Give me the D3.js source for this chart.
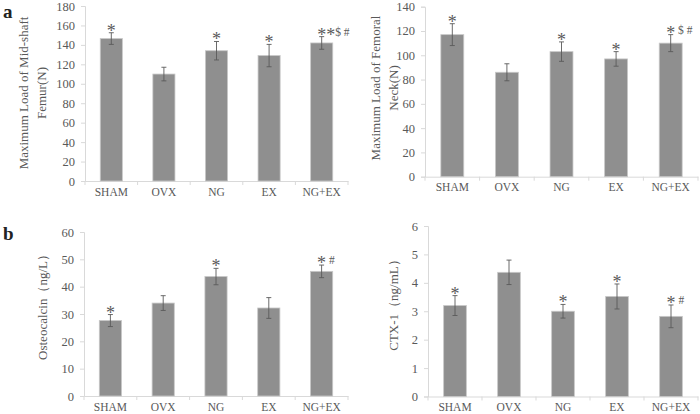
<!DOCTYPE html>
<html><head><meta charset="utf-8">
<script src="https://cdn.jsdelivr.net/npm/d3@7"></script>
<style>body{margin:0;background:#fff}svg{display:block}</style>
</head><body>
<svg id="chart" width="700" height="414"></svg>
<script>
const categories = ["SHAM", "OVX", "NG", "EX", "NG+EX"];

const femurMidValues = [146.5, 110, 134, 129, 142];
const femurMidErrors = [6, 7, 9.5, 11.5, 6.5];
const femurMidMarks = ["*", "", "*", "*", "**$ #"];
const femurMidTicks = [0, 20, 40, 60, 80, 100, 120, 140, 160, 180];

const femurNeckValues = [117, 86, 103, 97, 110];
const femurNeckErrors = [9, 7, 8, 6, 7];
const femurNeckMarks = ["*", "", "*", "*", "* $ #"];
const femurNeckTicks = [0, 20, 40, 60, 80, 100, 120, 140];

const osteocalcinValues = [27.6, 34, 43.7, 32.2, 45.6];
const osteocalcinErrors = [2.2, 2.7, 3, 3.8, 2.3];
const osteocalcinMarks = ["*", "", "*", "", "* #"];
const osteocalcinTicks = [0, 10, 20, 30, 40, 50, 60];

const ctxValues = [3.2, 4.37, 3.0, 3.52, 2.82];
const ctxErrors = [0.35, 0.43, 0.24, 0.44, 0.4];
const ctxMarks = ["*", "", "*", "*", "* #"];
const ctxTicks = [0, 1, 2, 3, 4, 5, 6];

const svg = d3.select("#chart");
const FONT = "'Liberation Serif','Times New Roman',serif";
const TEXT = "#595959";
const STAR = 18, SMALL = 11.5, STAR_DROP = 5;

const panels = [
  {values: femurMidValues, errors: femurMidErrors, marks: femurMidMarks, ticks: femurMidTicks,
   x0: 85, x1: 348, yTop: 6, yBot: 181,
   title: ["Maximum Load of Mid-shaft", "Femur(N)"], tx: [27.5, 46], ty: 93},
  {values: femurNeckValues, errors: femurNeckErrors, marks: femurNeckMarks, ticks: femurNeckTicks,
   x0: 425, x1: 698, yTop: 6.7, yBot: 176.7,
   title: ["Maximum Load of Femoral", "Neck(N)"], tx: [379.5, 397.5], ty: 88},
  {values: osteocalcinValues, errors: osteocalcinErrors, marks: osteocalcinMarks, ticks: osteocalcinTicks,
   x0: 84, x1: 348, yTop: 232, yBot: 396,
   title: ["Osteocalcin\uFF08ng/L\uFF09"], tx: [46.5], ty: 304},
  {values: ctxValues, errors: ctxErrors, marks: ctxMarks, ticks: ctxTicks,
   x0: 428, x1: 698, yTop: 226, yBot: 396.5,
   title: ["CTX-1\uFF08ng/mL\uFF09"], tx: [397.5], ty: 302}
];

panels.forEach(p => {
  const g = svg.append("g");
  const x = d3.scaleBand().domain(categories).range([p.x0, p.x1]).padding(0);
  const y = d3.scaleLinear().domain([0, d3.max(p.ticks)]).range([p.yBot, p.yTop]);
  const bw = x.bandwidth() * 0.42;
  const cx = c => x(c) + x.bandwidth() / 2;

  // y axis
  const ya = g.append("g").attr("transform", `translate(${p.x0},0)`)
    .call(d3.axisLeft(y).tickValues(p.ticks).tickFormat(d3.format("d")).tickSize(4).tickPadding(6));
  ya.select(".domain").attr("stroke", "#d9d9d9");
  ya.selectAll(".tick line").attr("stroke", "#d9d9d9");
  ya.selectAll("text").attr("font-family", FONT).attr("font-size", 12.5).attr("fill", TEXT);

  // x axis
  const xa = g.append("g").attr("transform", `translate(0,${p.yBot})`)
    .call(d3.axisBottom(x).tickSize(0).tickPadding(6.5));
  xa.select(".domain").attr("stroke", "#d9d9d9");
  xa.selectAll("text").attr("font-family", FONT).attr("font-size", 11.5).attr("fill", TEXT);
  const bounds = categories.map(c => x(c)).concat([p.x1]);
  xa.selectAll(".bnd").data(bounds).join("line").attr("class", "bnd")
    .attr("x1", d => d).attr("x2", d => d).attr("y1", 0).attr("y2", 4).attr("stroke", "#d9d9d9");

  // bars
  g.selectAll(".bar").data(categories).join("rect").attr("class", "bar")
    .attr("x", c => cx(c) - bw / 2)
    .attr("width", bw)
    .attr("y", (c, i) => y(p.values[i]))
    .attr("height", (c, i) => p.yBot - y(p.values[i]))
    .attr("fill", "#8f8f8f").attr("stroke", "#c8c8c8").attr("stroke-width", 0.8);

  // error bars
  const eb = g.selectAll(".err").data(categories).join("g").attr("class", "err")
    .attr("stroke", "#5a5a5a").attr("stroke-width", 0.9);
  eb.append("line")
    .attr("x1", cx).attr("x2", cx)
    .attr("y1", (c, i) => y(p.values[i] + p.errors[i])).attr("y2", (c, i) => y(p.values[i] - p.errors[i]));
  [1, -1].forEach(s => {
    eb.append("line")
      .attr("x1", c => cx(c) - 2.5).attr("x2", c => cx(c) + 2.5)
      .attr("y1", (c, i) => y(p.values[i] + s * p.errors[i])).attr("y2", (c, i) => y(p.values[i] + s * p.errors[i]));
  });

  // significance marks
  categories.forEach((c, i) => {
    const m = p.marks[i];
    if (!m) return;
    const t = g.append("text")
      .attr("x", cx(c) - STAR * 0.25)
      .attr("y", y(p.values[i] + p.errors[i]) - 1)
      .attr("font-family", FONT).attr("fill", TEXT);
    let shift = 0;
    m.split("").forEach(ch => {
      const isStar = ch === "*";
      const want = isStar ? STAR_DROP : 0;
      t.append("tspan").attr("dy", want - shift)
        .attr("font-size", isStar ? STAR : SMALL).text(ch === " " ? "\u00A0" : ch);
      shift = want;
    });
  });

  // title
  p.title.forEach((t, k) => {
    g.append("text")
      .attr("transform", `translate(${p.tx[k]},${p.ty}) rotate(-90)`)
      .attr("text-anchor", "middle")
      .attr("font-family", FONT).attr("font-size", 13).attr("fill", TEXT)
      .text(t);
  });
});

svg.append("text").attr("x", 3).attr("y", 18).attr("font-family", FONT)
  .attr("font-weight", "bold").attr("font-size", 19).attr("fill", "#222").text("a");
svg.append("text").attr("x", 3).attr("y", 240).attr("font-family", FONT)
  .attr("font-weight", "bold").attr("font-size", 19).attr("fill", "#222").text("b");
</script>
</body></html>
